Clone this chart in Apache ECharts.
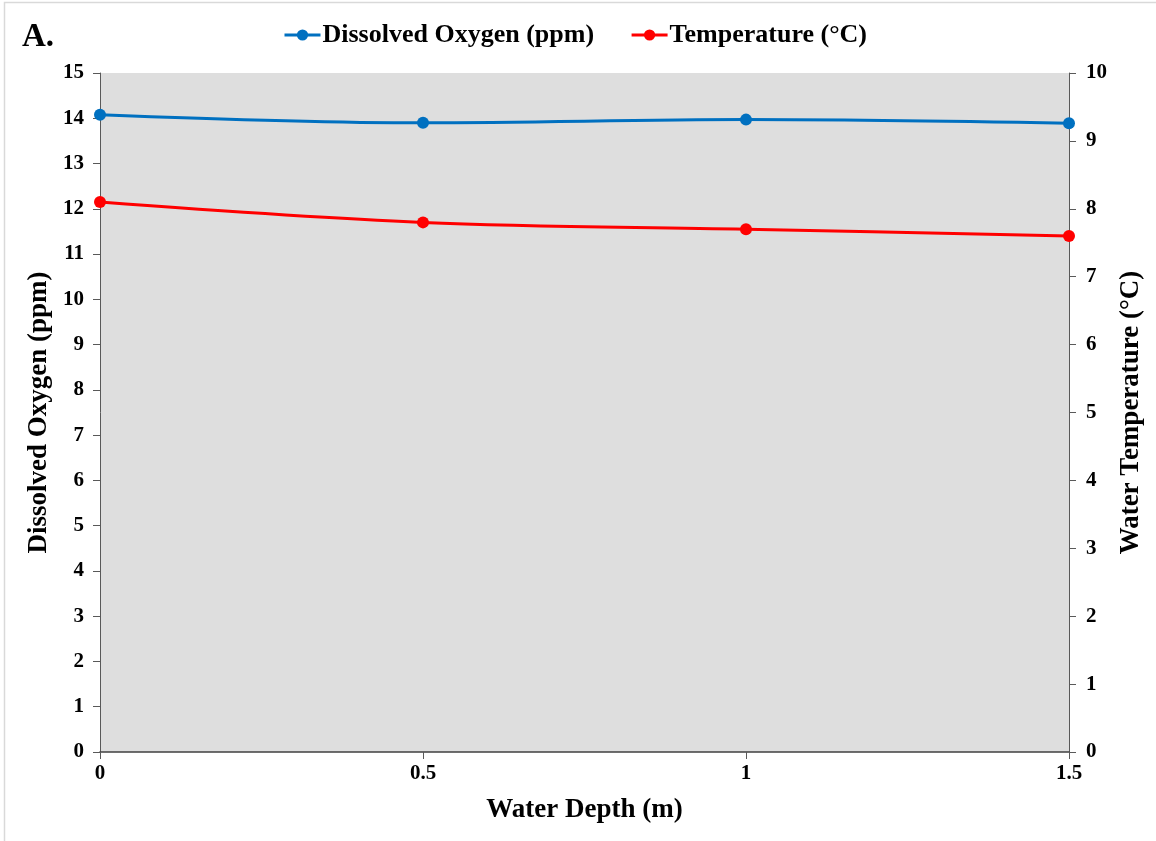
<!DOCTYPE html>
<html>
<head>
<meta charset="utf-8">
<script src="https://cdn.jsdelivr.net/npm/echarts@6/dist/echarts.min.js"></script>
<style>
  html, body { margin: 0; padding: 0; background: #ffffff; }
  #chart { width: 1156px; height: 841px; }
</style>
</head>
<body>
<div id="chart"></div>
<script>
// Depth profile: dissolved oxygen (left axis) and water temperature (right axis)
const depths = [0, 0.5, 1, 1.5];
const dissolvedOxygen = [14.08, 13.90, 13.97, 13.89];
const temperature = [8.10, 7.80, 7.70, 7.60];

const serif = '"Liberation Serif", "DejaVu Serif", serif';
const axisColor = '#595959';
const titleStyle = { fontFamily: serif, fontWeight: 'bold', fontSize: 27, color: '#000000' };
const tickStyle = { fontFamily: serif, fontWeight: 'bold', fontSize: 21, color: '#000000' };

const pairs = (xs, ys) => xs.map((x, i) => [x, ys[i]]);

const chart = echarts.init(document.getElementById('chart'), null, { renderer: 'canvas' });

chart.setOption({
  backgroundColor: '#ffffff',
  animation: false,
  graphic: [
    {
      type: 'rect',
      shape: { x: 4.5, y: 2.5, width: 1160, height: 850 },
      style: { fill: 'none', stroke: '#d9d9d9', lineWidth: 1.5 },
      silent: true
    },
    {
      type: 'text',
      left: 22,
      top: 21,
      style: { text: 'A.', font: 'bold 33px ' + serif, fill: '#000000' }
    }
  ],
  legend: {
    top: 17,
    left: 278,
    itemWidth: 36,
    itemHeight: 14,
    itemGap: 36,
    lineStyle: { width: 3 },
    textStyle: { fontFamily: serif, fontWeight: 'bold', fontSize: 26, color: '#000000', padding: [0, 0, 0, -3] },
    data: ['Dissolved Oxygen (ppm)', 'Temperature (°C)']
  },
  grid: {
    left: 100,
    right: 87,
    top: 73,
    bottom: 89,
    show: true,
    backgroundColor: '#dedede',
    borderWidth: 0
  },
  xAxis: {
    type: 'value',
    min: 0,
    max: 1.5,
    interval: 0.5,
    name: 'Water Depth (m)',
    nameLocation: 'middle',
    nameGap: 45,
    nameTextStyle: titleStyle,
    axisLine: { show: true, onZero: false, lineStyle: { color: '#404040', width: 1.5 } },
    axisTick: { show: true, inside: false, length: 7, lineStyle: { color: axisColor } },
    axisLabel: Object.assign({ margin: 11 }, tickStyle),
    splitLine: { show: false }
  },
  yAxis: [
    {
      type: 'value',
      position: 'left',
      min: 0,
      max: 15,
      interval: 1,
      name: 'Dissolved Oxygen (ppm)',
      nameLocation: 'middle',
      nameGap: 36,
      nameRotate: 90,
      nameTextStyle: titleStyle,
      axisLine: { show: true, lineStyle: { color: axisColor, width: 1 } },
      axisTick: { show: true, inside: false, length: 7, lineStyle: { color: axisColor } },
      axisLabel: Object.assign({ margin: 16 }, tickStyle),
      splitLine: { show: false }
    },
    {
      type: 'value',
      position: 'right',
      min: 0,
      max: 10,
      interval: 1,
      name: 'Water Temperature (°C)',
      nameLocation: 'middle',
      nameGap: 46,
      nameRotate: 90,
      nameTextStyle: titleStyle,
      axisLine: { show: true, lineStyle: { color: axisColor, width: 1 } },
      axisTick: { show: true, inside: false, length: 7, lineStyle: { color: axisColor } },
      axisLabel: Object.assign({ margin: 17 }, tickStyle),
      splitLine: { show: false }
    }
  ],
  series: [
    {
      name: 'Dissolved Oxygen (ppm)',
      type: 'line',
      yAxisIndex: 0,
      data: pairs(depths, dissolvedOxygen),
      smooth: 0.35,
      symbol: 'circle',
      symbolSize: 12,
      showSymbol: true,
      color: '#0070c0',
      lineStyle: { width: 3, color: '#0070c0' },
      itemStyle: { color: '#0070c0' },
      z: 3
    },
    {
      name: 'Temperature (°C)',
      type: 'line',
      yAxisIndex: 1,
      data: pairs(depths, temperature),
      smooth: 0.35,
      symbol: 'circle',
      symbolSize: 12,
      showSymbol: true,
      color: '#ff0000',
      lineStyle: { width: 3, color: '#ff0000' },
      itemStyle: { color: '#ff0000' },
      z: 3
    }
  ]
});
</script>
</body>
</html>
